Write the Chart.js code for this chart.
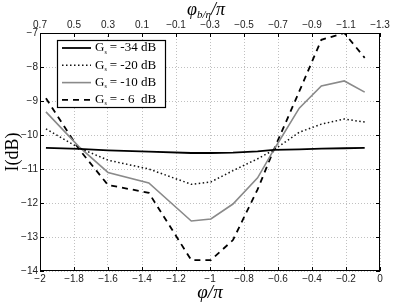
<!DOCTYPE html>
<html>
<head>
<meta charset="utf-8">
<script src="https://cdn.jsdelivr.net/npm/chart.js@4.4.0/dist/chart.umd.min.js"></script>
<style>
html, body { margin: 0; padding: 0; background: #fff; }
</style>
</head>
<body>
<canvas id="chart" width="399" height="303"></canvas>
<script>
// phi/pi positions of the computed points
const phi = [-1.965, -1.77, -1.60, -1.36, -1.11, -0.995, -0.865, -0.72, -0.625, -0.475, -0.345, -0.21, -0.09];

// I(dB) for each G value
const g34 = [-10.38, -10.41, -10.45, -10.49, -10.53, -10.53, -10.52, -10.48, -10.44, -10.42, -10.40, -10.39, -10.38];
const g20 = [-9.82, -10.38, -10.74, -11.0, -11.45, -11.38, -11.05, -10.7, -10.44, -9.92, -9.68, -9.53, -9.62];
const g10 = [-9.32, -10.35, -11.1, -11.41, -12.53, -12.47, -12.03, -11.26, -10.44, -9.21, -8.56, -8.41, -8.74];
const g6  = [-8.92, -10.42, -11.47, -11.7, -13.68, -13.68, -13.09, -11.6, -10.44, -8.72, -7.2, -7.0, -7.73];

const legendLabels = ['= -34 dB', '= -20 dB', '= -10 dB', '= - 6  dB'];

const minus = s => s.replace('-', '\u2212');
const fmt = v => minus(String(Math.round(v * 10) / 10));

function pts(ys) {
    return ys.map((y, i) => ({ x: phi[i], y: y }));
}

const styles = [
    { borderColor: '#000', borderWidth: 1.8, borderDash: [] },
    { borderColor: '#111', borderWidth: 1.5, borderDash: [1.5, 2.5] },
    { borderColor: '#8a8a8a', borderWidth: 1.6, borderDash: [] },
    { borderColor: '#000', borderWidth: 1.8, borderDash: [6, 5] }
];

const datasets = [g34, g20, g10, g6].map((ys, i) => ({
    label: legendLabels[i],
    data: pts(ys),
    borderColor: styles[i].borderColor,
    borderWidth: styles[i].borderWidth,
    borderDash: styles[i].borderDash,
    pointRadius: 0,
    tension: 0,
    fill: false
}));

// frame, inward ticks, titles and the boxed legend
const decorations = {
    id: 'decorations',
    afterDraw(chart) {
        const ctx = chart.ctx;
        const a = chart.chartArea;
        const sx = chart.scales.x, sy = chart.scales.y;
        ctx.save();
        ctx.strokeStyle = '#000';
        ctx.lineWidth = 1;
        ctx.setLineDash([]);
        ctx.strokeRect(a.left + 0.5, a.top + 0.5, a.right - a.left - 1, a.bottom - a.top - 1);
        ctx.beginPath();
        sx.ticks.forEach(t => {
            const p = Math.round(sx.getPixelForValue(t.value)) + 0.5;
            ctx.moveTo(p, a.bottom); ctx.lineTo(p, a.bottom - 4);
            ctx.moveTo(p, a.top); ctx.lineTo(p, a.top + 4);
        });
        sy.ticks.forEach(t => {
            const p = Math.round(sy.getPixelForValue(t.value)) + 0.5;
            ctx.moveTo(a.left, p); ctx.lineTo(a.left + 4, p);
            ctx.moveTo(a.right, p); ctx.lineTo(a.right - 4, p);
        });
        ctx.stroke();

        // axis titles
        ctx.fillStyle = '#000';
        ctx.textBaseline = 'middle';
        ctx.textAlign = 'center';
        ctx.font = 'italic 19px "Liberation Serif"';
        ctx.fillText('\u03C6/\u03C0', 210, 293);

        ctx.textAlign = 'left';
        let x = 187;
        ctx.font = 'italic 18px "Liberation Serif"';
        ctx.fillText('\u03C6', x, 10);
        x += ctx.measureText('\u03C6').width;
        ctx.font = 'italic 11px "Liberation Serif"';
        ctx.fillText('b/\u03B7', x, 15);
        x += ctx.measureText('b/\u03B7').width;
        ctx.font = 'italic 18px "Liberation Serif"';
        ctx.fillText('/\u03C0', x, 10);

        ctx.save();
        ctx.translate(13, 152);
        ctx.rotate(-Math.PI / 2);
        ctx.textAlign = 'center';
        ctx.font = '18px "Liberation Serif"';
        ctx.fillText('I(dB)', 0, 0);
        ctx.restore();

        // legend
        const bx = 57, by = 40, bw = 108, bh = 67;
        ctx.fillStyle = '#fff';
        ctx.fillRect(bx, by, bw, bh);
        ctx.lineWidth = 1.2;
        ctx.strokeStyle = '#000';
        ctx.strokeRect(bx + 0.5, by + 0.5, bw, bh);
        chart.data.datasets.forEach((ds, i) => {
            const y = by + 8 + i * 17.3;
            ctx.beginPath();
            ctx.strokeStyle = ds.borderColor;
            ctx.lineWidth = ds.borderWidth;
            ctx.setLineDash(ds.borderDash);
            ctx.moveTo(62, y); ctx.lineTo(91, y);
            ctx.stroke();
            ctx.setLineDash([]);
            ctx.fillStyle = '#000';
            ctx.textAlign = 'left';
            let tx = 95;
            ctx.font = '13px "Liberation Serif"';
            ctx.fillText('G', tx, y);
            tx += ctx.measureText('G').width;
            ctx.font = '6px "Liberation Serif"';
            ctx.fillText('s', tx, y + 4);
            tx += ctx.measureText('s').width + 3;
            ctx.font = '13px "Liberation Serif"';
            ctx.fillText(ds.label, tx, y);
        });
        ctx.restore();
    }
};

const tickFont = { family: '"Liberation Sans", Arial, sans-serif', size: 10 };

new Chart(document.getElementById('chart').getContext('2d'), {
    type: 'line',
    data: { datasets: datasets },
    options: {
        responsive: false,
        animation: false,
        layout: { padding: { left: 0, right: 19, top: 0, bottom: 0 } },
        plugins: { legend: { display: false }, tooltip: { enabled: false } },
        scales: {
            x: {
                type: 'linear', position: 'bottom', min: -2, max: 0,
                ticks: { stepSize: 0.2, callback: v => fmt(v), font: tickFont, color: '#222', padding: 2, maxRotation: 0, autoSkip: false },
                grid: { color: '#b0b0b0', lineWidth: 0.8, drawTicks: false },
                border: { display: false, dash: [1, 2] },
                afterFit: s => { s.height = 32; }
            },
            x2: {
                type: 'linear', position: 'top', min: -2, max: 0,
                ticks: { stepSize: 0.2, callback: v => fmt(-v - 1.3), font: tickFont, color: '#222', padding: 2, maxRotation: 0, autoSkip: false },
                grid: { display: false, drawTicks: false },
                border: { display: false },
                afterFit: s => { s.height = 33; }
            },
            y: {
                min: -14, max: -7,
                ticks: { stepSize: 1, callback: v => fmt(v), font: tickFont, color: '#222', padding: 2 },
                grid: { color: '#b0b0b0', lineWidth: 0.8, drawTicks: false },
                border: { display: false, dash: [1, 2] },
                afterFit: s => { s.width = 40; }
            }
        }
    },
    plugins: [decorations]
});
</script>
</body>
</html>
